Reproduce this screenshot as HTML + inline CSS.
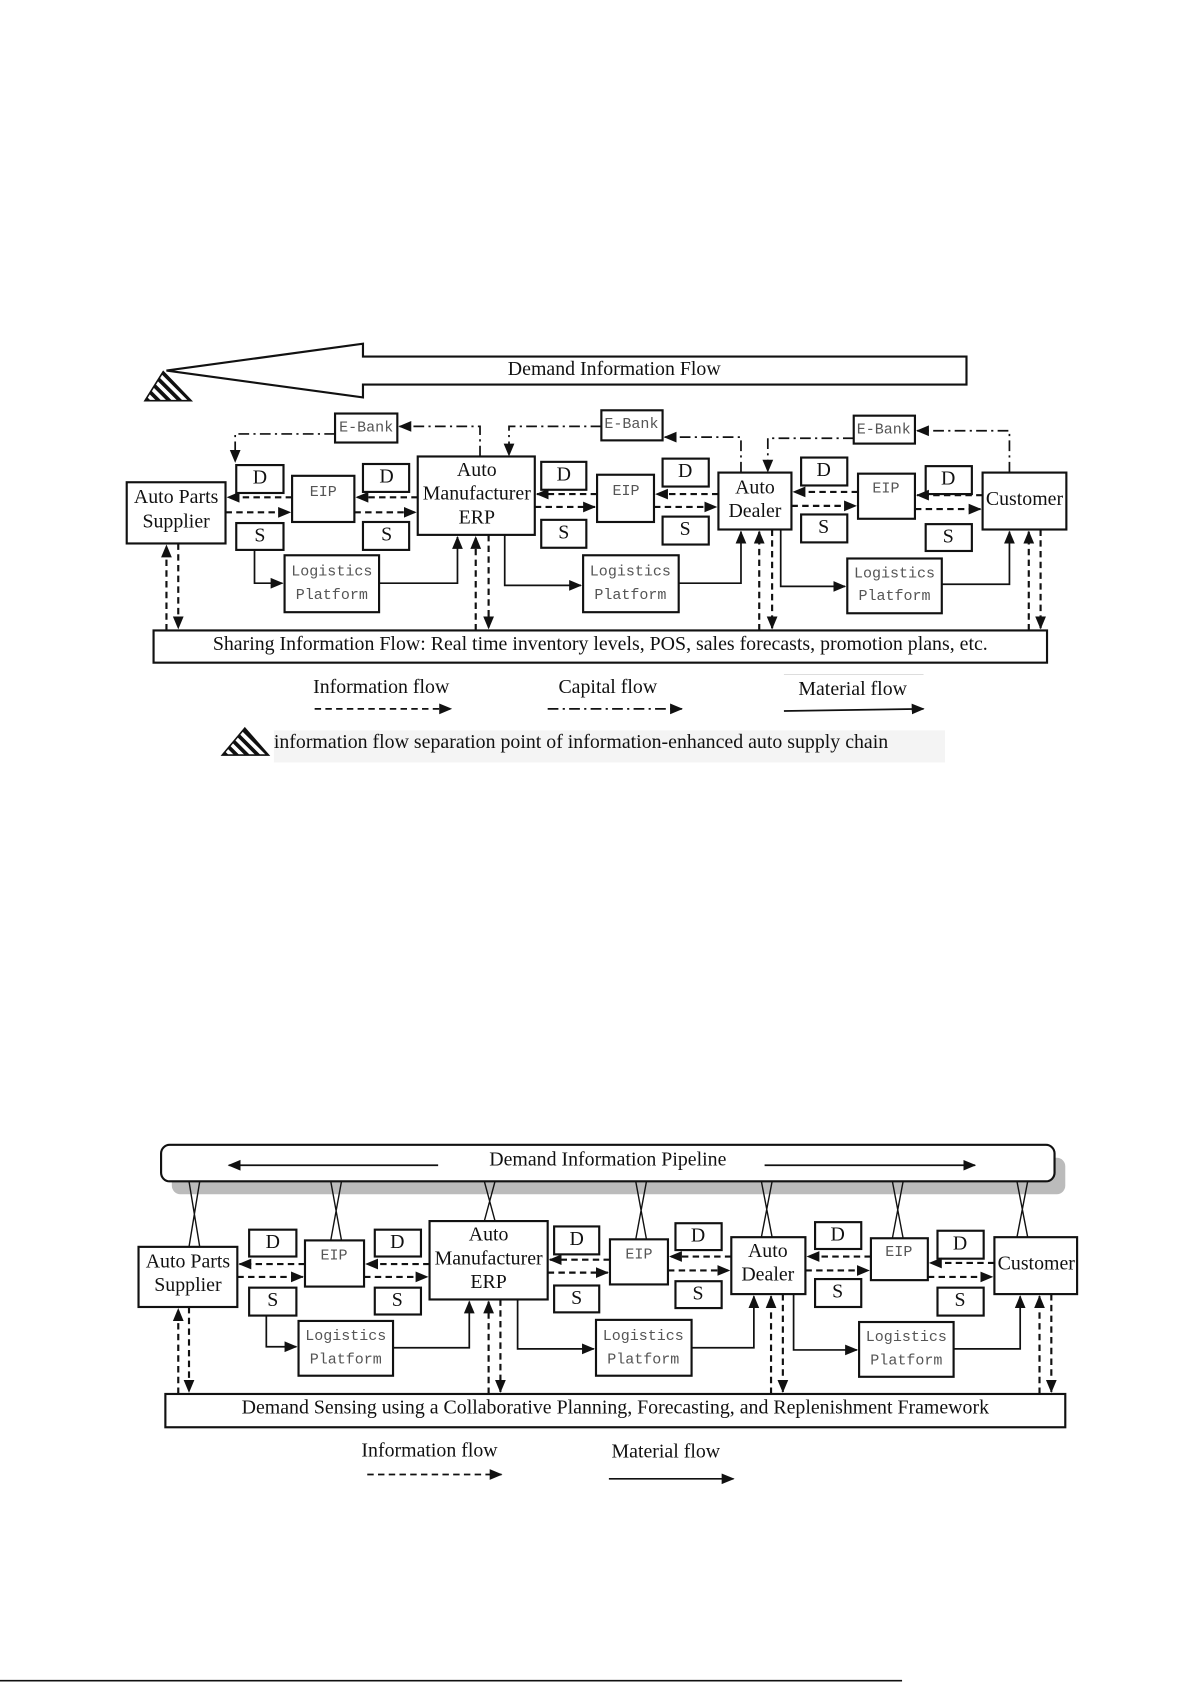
<!DOCTYPE html>
<html><head><meta charset="utf-8"><style>
html,body{margin:0;padding:0;background:#fff;}
svg{display:block}
.b{fill:#fff;stroke:#111;stroke-width:2}
.t{font-family:"Liberation Serif",serif;font-size:18.5px;fill:#111;text-anchor:middle;dominant-baseline:middle}
.m{font-family:"Liberation Mono",monospace;font-size:14px;fill:#555;text-anchor:middle;dominant-baseline:middle}
.d{stroke:#111;stroke-width:2;stroke-dasharray:6,4;fill:none}
.c{stroke:#111;stroke-width:1.6;stroke-dasharray:10,4,2,4;fill:none}
.s{stroke:#111;stroke-width:1.6;fill:none}
</style></head><body>
<svg width="1192" height="1684" viewBox="0 0 1110 1568" xmlns="http://www.w3.org/2000/svg">
<defs>
<marker id="a" markerUnits="userSpaceOnUse" markerWidth="12" markerHeight="12" viewBox="0 0 12 12" refX="11" refY="6" orient="auto"><path d="M0,1 L12,6 L0,11 z" fill="#111"/></marker>
<pattern id="h" patternUnits="userSpaceOnUse" width="7" height="7" patternTransform="rotate(-45)"><rect width="7" height="7" fill="#fff"/><rect width="3.5" height="7" fill="#111"/></pattern>
</defs>

<!-- TOP DIAGRAM -->
<path d="M155,345 L338,320 L338,332 L900,332 L900,358 L338,358 L338,370 Z" fill="#fff" stroke="#111" stroke-width="2"/>
<text class="t" x="572" y="345">Demand Information Flow</text>
<path d="M152,346 L178,373 L135,373 Z" fill="url(#h)" stroke="#111" stroke-width="1.5"/>

<rect class="b" x="312" y="385" width="58" height="27"/><text class="m" x="341" y="398">E-Bank</text>
<rect class="b" x="560" y="382" width="57" height="28"/><text class="m" x="588" y="395">E-Bank</text>
<rect class="b" x="795" y="387" width="57" height="26"/><text class="m" x="823" y="400">E-Bank</text>

<polyline class="c" points="447,425 447,397 372,397" marker-end="url(#a)"/>
<polyline class="c" points="312,404 219,404 219,430" marker-end="url(#a)"/>
<polyline class="c" points="560,397 474,397 474,424" marker-end="url(#a)"/>
<polyline class="c" points="690,440 690,407 619,407" marker-end="url(#a)"/>
<polyline class="c" points="795,408 715,408 715,439" marker-end="url(#a)"/>
<polyline class="c" points="940,440 940,401 854,401" marker-end="url(#a)"/>

<rect class="b" x="118" y="449" width="92" height="57"/><text class="t" x="164" y="464">Auto Parts</text><text class="t" x="164" y="487">Supplier</text>
<rect class="b" x="220" y="433" width="44" height="26"/><text class="t" x="242" y="446">D</text>
<rect class="b" x="220" y="487" width="44" height="25"/><text class="t" x="242" y="500">S</text>
<rect class="b" x="272" y="443" width="58" height="43"/><text class="m" x="301" y="458">EIP</text>
<rect class="b" x="338" y="432" width="43" height="26"/><text class="t" x="360" y="445">D</text>
<rect class="b" x="338" y="486" width="43" height="26"/><text class="t" x="360" y="499">S</text>
<rect class="b" x="389" y="425" width="109" height="73"/><text class="t" x="444" y="439">Auto</text><text class="t" x="444" y="461">Manufacturer</text><text class="t" x="444" y="483">ERP</text>
<rect class="b" x="504" y="430" width="42" height="26"/><text class="t" x="525" y="443">D</text>
<rect class="b" x="504" y="484" width="42" height="26"/><text class="t" x="525" y="497">S</text>
<rect class="b" x="556" y="442" width="53" height="44"/><text class="m" x="583" y="457">EIP</text>
<rect class="b" x="617" y="427" width="43" height="26"/><text class="t" x="638" y="440">D</text>
<rect class="b" x="617" y="481" width="43" height="26"/><text class="t" x="638" y="494">S</text>
<rect class="b" x="669" y="440" width="68" height="53"/><text class="t" x="703" y="455">Auto</text><text class="t" x="703" y="477">Dealer</text>
<rect class="b" x="746" y="426" width="43" height="26"/><text class="t" x="767" y="439">D</text>
<rect class="b" x="746" y="479" width="43" height="26"/><text class="t" x="767" y="492">S</text>
<rect class="b" x="799" y="441" width="53" height="42"/><text class="m" x="825" y="455">EIP</text>
<rect class="b" x="862" y="434" width="43" height="26"/><text class="t" x="883" y="447">D</text>
<rect class="b" x="862" y="488" width="43" height="25"/><text class="t" x="883" y="501">S</text>
<rect class="b" x="915" y="440" width="78" height="53"/><text class="t" x="954" y="466">Customer</text>
<rect class="b" x="265" y="517" width="88" height="53"/><text class="m" x="309" y="532">Logistics</text><text class="m" x="309" y="554">Platform</text>
<rect class="b" x="543" y="517" width="89" height="53"/><text class="m" x="587" y="532">Logistics</text><text class="m" x="587" y="554">Platform</text>
<rect class="b" x="789" y="520" width="88" height="51"/><text class="m" x="833" y="534">Logistics</text><text class="m" x="833" y="555">Platform</text>
<rect class="b" x="143" y="587" width="832" height="30"/><text class="t" x="559" y="601">Sharing Information Flow: Real time inventory levels, POS, sales forecasts, promotion plans, etc.</text>

<!-- dashed info pairs top -->
<line class="d" x1="272" y1="463" x2="212" y2="463" marker-end="url(#a)"/><line class="d" x1="210" y1="477" x2="270" y2="477" marker-end="url(#a)"/>
<line class="d" x1="389" y1="463" x2="332" y2="463" marker-end="url(#a)"/><line class="d" x1="330" y1="477" x2="387" y2="477" marker-end="url(#a)"/>
<line class="d" x1="556" y1="460" x2="500" y2="460" marker-end="url(#a)"/><line class="d" x1="498" y1="472" x2="554" y2="472" marker-end="url(#a)"/>
<line class="d" x1="669" y1="460" x2="611" y2="460" marker-end="url(#a)"/><line class="d" x1="609" y1="472" x2="667" y2="472" marker-end="url(#a)"/>
<line class="d" x1="799" y1="458" x2="739" y2="458" marker-end="url(#a)"/><line class="d" x1="737" y1="471" x2="797" y2="471" marker-end="url(#a)"/>
<line class="d" x1="915" y1="461" x2="854" y2="461" marker-end="url(#a)"/><line class="d" x1="852" y1="474" x2="913" y2="474" marker-end="url(#a)"/>

<!-- material top -->
<polyline class="s" points="237,512 237,543 263,543" marker-end="url(#a)"/>
<polyline class="s" points="353,543 426,543 426,500" marker-end="url(#a)"/>
<polyline class="s" points="470,498 470,545 541,545" marker-end="url(#a)"/>
<polyline class="s" points="632,543 690,543 690,495" marker-end="url(#a)"/>
<polyline class="s" points="727,493 727,546 787,546" marker-end="url(#a)"/>
<polyline class="s" points="877,544 940,544 940,495" marker-end="url(#a)"/>

<!-- vertical dashed top -->
<line class="d" x1="155" y1="587" x2="155" y2="508" marker-end="url(#a)"/><line class="d" x1="166" y1="506" x2="166" y2="585" marker-end="url(#a)"/>
<line class="d" x1="443" y1="587" x2="443" y2="500" marker-end="url(#a)"/><line class="d" x1="455" y1="498" x2="455" y2="585" marker-end="url(#a)"/>
<line class="d" x1="707" y1="587" x2="707" y2="495" marker-end="url(#a)"/><line class="d" x1="719" y1="493" x2="719" y2="585" marker-end="url(#a)"/>
<line class="d" x1="958" y1="587" x2="958" y2="495" marker-end="url(#a)"/><line class="d" x1="969" y1="493" x2="969" y2="585" marker-end="url(#a)"/>

<!-- legend top -->
<text class="t" x="355" y="641">Information flow</text>
<line x1="293" y1="660" x2="420" y2="660" stroke="#111" stroke-width="1.6" stroke-dasharray="6,4" marker-end="url(#a)"/>
<text class="t" x="566" y="641">Capital flow</text>
<line class="c" x1="510" y1="660" x2="635" y2="660" marker-end="url(#a)"/>
<line x1="730" y1="628" x2="860" y2="628" stroke="#ddd" stroke-width="1"/>
<text class="t" x="794" y="643">Material flow</text>
<line class="s" x1="730" y1="662" x2="860" y2="660" marker-end="url(#a)"/>
<rect x="255" y="680" width="625" height="30" fill="#f4f4f4"/>
<path d="M228,678 L250,703 L207,703 Z" fill="url(#h)" stroke="#111" stroke-width="1.5"/>
<text class="t" x="255" y="692" style="text-anchor:start">information flow separation point of information-enhanced auto supply chain</text>

<!-- BOTTOM DIAGRAM -->
<rect x="160" y="1078" width="832" height="34" rx="8" fill="#bbb"/>
<rect x="150" y="1066" width="832" height="34" rx="8" fill="#fff" stroke="#111" stroke-width="2"/>
<text class="t" x="566" y="1081">Demand Information Pipeline</text>
<line class="s" x1="408" y1="1085" x2="213" y2="1085" marker-end="url(#a)"/>
<line class="s" x1="712" y1="1085" x2="908" y2="1085" marker-end="url(#a)"/>
<g stroke="#111" stroke-width="1.3">
<path d="M176,1100 L186,1161 M186,1100 L176,1161"/>
<path d="M308,1100 L318,1155 M318,1100 L308,1155"/>
<path d="M451,1100 L461,1137 M461,1100 L451,1137"/>
<path d="M592,1100 L602,1154 M602,1100 L592,1154"/>
<path d="M709,1100 L719,1152 M719,1100 L709,1152"/>
<path d="M831,1100 L841,1153 M841,1100 L831,1153"/>
<path d="M947,1100 L957,1152 M957,1100 L947,1152"/>
</g>

<rect class="b" x="129" y="1161" width="92" height="56"/><text class="t" x="175" y="1176">Auto Parts</text><text class="t" x="175" y="1198">Supplier</text>
<rect class="b" x="232" y="1145" width="44" height="25"/><text class="t" x="254" y="1158">D</text>
<rect class="b" x="232" y="1199" width="44" height="26"/><text class="t" x="254" y="1212">S</text>
<rect class="b" x="284" y="1155" width="55" height="43"/><text class="m" x="311" y="1169">EIP</text>
<rect class="b" x="349" y="1145" width="43" height="25"/><text class="t" x="370" y="1158">D</text>
<rect class="b" x="349" y="1199" width="43" height="25"/><text class="t" x="370" y="1212">S</text>
<rect class="b" x="400" y="1137" width="110" height="73"/><text class="t" x="455" y="1151">Auto</text><text class="t" x="455" y="1173">Manufacturer</text><text class="t" x="455" y="1195">ERP</text>
<rect class="b" x="516" y="1142" width="42" height="26"/><text class="t" x="537" y="1155">D</text>
<rect class="b" x="516" y="1197" width="42" height="25"/><text class="t" x="537" y="1210">S</text>
<rect class="b" x="568" y="1154" width="54" height="42"/><text class="m" x="595" y="1168">EIP</text>
<rect class="b" x="629" y="1139" width="43" height="25"/><text class="t" x="650" y="1152">D</text>
<rect class="b" x="629" y="1193" width="43" height="25"/><text class="t" x="650" y="1206">S</text>
<rect class="b" x="681" y="1152" width="69" height="53"/><text class="t" x="715" y="1166">Auto</text><text class="t" x="715" y="1188">Dealer</text>
<rect class="b" x="759" y="1138" width="43" height="25"/><text class="t" x="780" y="1151">D</text>
<rect class="b" x="759" y="1191" width="43" height="26"/><text class="t" x="780" y="1204">S</text>
<rect class="b" x="811" y="1153" width="53" height="39"/><text class="m" x="837" y="1166">EIP</text>
<rect class="b" x="873" y="1146" width="43" height="26"/><text class="t" x="894" y="1159">D</text>
<rect class="b" x="873" y="1199" width="43" height="26"/><text class="t" x="894" y="1212">S</text>
<rect class="b" x="926" y="1152" width="77" height="53"/><text class="t" x="965" y="1178">Customer</text>
<rect class="b" x="278" y="1230" width="88" height="51"/><text class="m" x="322" y="1244">Logistics</text><text class="m" x="322" y="1266">Platform</text>
<rect class="b" x="555" y="1229" width="89" height="52"/><text class="m" x="599" y="1244">Logistics</text><text class="m" x="599" y="1266">Platform</text>
<rect class="b" x="800" y="1231" width="88" height="51"/><text class="m" x="844" y="1245">Logistics</text><text class="m" x="844" y="1267">Platform</text>
<rect class="b" x="154" y="1298" width="838" height="31"/><text class="t" x="573" y="1312">Demand Sensing using a Collaborative Planning, Forecasting, and Replenishment Framework</text>

<line class="d" x1="284" y1="1177" x2="223" y2="1177" marker-end="url(#a)"/><line class="d" x1="221" y1="1189" x2="282" y2="1189" marker-end="url(#a)"/>
<line class="d" x1="400" y1="1177" x2="341" y2="1177" marker-end="url(#a)"/><line class="d" x1="339" y1="1189" x2="398" y2="1189" marker-end="url(#a)"/>
<line class="d" x1="568" y1="1173" x2="512" y2="1173" marker-end="url(#a)"/><line class="d" x1="510" y1="1185" x2="566" y2="1185" marker-end="url(#a)"/>
<line class="d" x1="681" y1="1170" x2="624" y2="1170" marker-end="url(#a)"/><line class="d" x1="622" y1="1183" x2="679" y2="1183" marker-end="url(#a)"/>
<line class="d" x1="811" y1="1170" x2="752" y2="1170" marker-end="url(#a)"/><line class="d" x1="750" y1="1183" x2="809" y2="1183" marker-end="url(#a)"/>
<line class="d" x1="926" y1="1176" x2="866" y2="1176" marker-end="url(#a)"/><line class="d" x1="864" y1="1189" x2="924" y2="1189" marker-end="url(#a)"/>

<polyline class="s" points="248,1225 248,1254 276,1254" marker-end="url(#a)"/>
<polyline class="s" points="366,1255 437,1255 437,1212" marker-end="url(#a)"/>
<polyline class="s" points="482,1210 482,1256 553,1256" marker-end="url(#a)"/>
<polyline class="s" points="644,1255 702,1255 702,1207" marker-end="url(#a)"/>
<polyline class="s" points="739,1205 739,1257 798,1257" marker-end="url(#a)"/>
<polyline class="s" points="888,1256 950,1256 950,1207" marker-end="url(#a)"/>

<line class="d" x1="166" y1="1298" x2="166" y2="1219" marker-end="url(#a)"/><line class="d" x1="176" y1="1217" x2="176" y2="1296" marker-end="url(#a)"/>
<line class="d" x1="455" y1="1298" x2="455" y2="1212" marker-end="url(#a)"/><line class="d" x1="466" y1="1210" x2="466" y2="1296" marker-end="url(#a)"/>
<line class="d" x1="718" y1="1298" x2="718" y2="1207" marker-end="url(#a)"/><line class="d" x1="729" y1="1205" x2="729" y2="1296" marker-end="url(#a)"/>
<line class="d" x1="968" y1="1298" x2="968" y2="1207" marker-end="url(#a)"/><line class="d" x1="979" y1="1205" x2="979" y2="1296" marker-end="url(#a)"/>

<text class="t" x="400" y="1352">Information flow</text>
<line x1="342" y1="1373" x2="467" y2="1373" stroke="#111" stroke-width="1.6" stroke-dasharray="6,4" marker-end="url(#a)"/>
<text class="t" x="620" y="1353">Material flow</text>
<line class="s" x1="567" y1="1377" x2="683" y2="1377" marker-end="url(#a)"/>

<line x1="0" y1="1565" x2="840" y2="1565" stroke="#111" stroke-width="1.5"/>
</svg>
</body></html>
